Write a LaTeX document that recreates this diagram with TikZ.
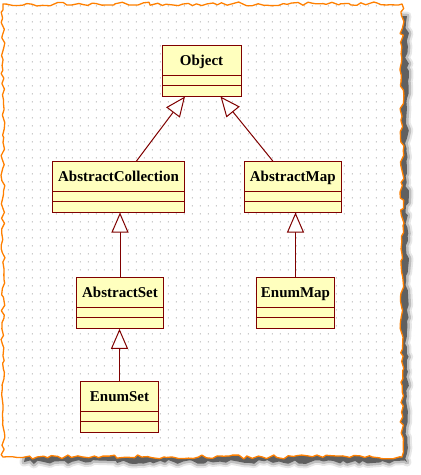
\documentclass[tikz,border=0pt]{standalone}
\usepackage{fontspec}
\setmainfont{Liberation Serif}
\usetikzlibrary{arrows.meta,shapes.multipart,decorations.pathmorphing}
\definecolor{umlred}{RGB}{128,0,0}
\definecolor{umlfill}{RGB}{255,255,190}
\definecolor{tornorange}{RGB}{255,128,0}
\definecolor{dotgray}{RGB}{176,176,176}
\definecolor{shadowgray}{RGB}{96,96,96}
\tikzset{
  classbox/.style={rectangle split, rectangle split parts=3, draw=umlred, fill=umlfill,
    line width=1pt, inner xsep=2pt, inner ysep=0pt, anchor=north,
    font=\fontsize{15}{18}\selectfont\bfseries},
  gen/.style={draw=umlred, line width=1pt, -{Triangle[length=20pt,width=17pt,fill=white]}},
  torn/.style={decorate, decoration={random steps, segment length=5pt, amplitude=2pt}},
}
\newcommand{\cname}[1]{\rule[-9pt]{0pt}{28.5pt}#1\nodepart{two}\rule{0pt}{9.5pt}\nodepart{three}\rule{0pt}{9.5pt}}
\begin{document}
\begin{tikzpicture}[x=1pt,y=-1pt]
\useasboundingbox (0,0) rectangle (421,475);
% shadow
\pgfmathsetseed{11}
\draw[torn, shadowgray, opacity=0.15, line width=9pt, line join=round] (24,16) rectangle (407,462);
\pgfmathsetseed{11}
\draw[torn, shadowgray, opacity=0.3, line width=5pt, line join=round] (24,16) rectangle (407,462);
\pgfmathsetseed{11}
\fill[torn, shadowgray] (24,16) rectangle (407,462);
% paper
\pgfmathsetseed{5}
\fill[torn, white] (3,4) rectangle (402,457);
% dots
\fill[dotgray] \foreach \i in {0,...,48} { \foreach \j in {0,...,55} { ({7.8+8*\i},{5.3+8*\j}) rectangle +(1,1) } };
\pgfmathsetseed{5}
\draw[torn, tornorange, line width=1.3pt, line join=round] (3,4) rectangle (402,457);
% classes
\node[classbox, minimum width=79pt] (obj) at (201.5,45) {\cname{Object}};
\node[classbox, minimum width=132.5pt] (abscoll) at (118.5,161) {\cname{AbstractCollection}};
\node[classbox, minimum width=97pt] (absmap) at (292.8,161) {\cname{AbstractMap}};
\node[classbox, minimum width=87.5pt] (absset) at (120,277.3) {\cname{AbstractSet}};
\node[classbox, minimum width=78.4pt] (enummap) at (295.5,277.3) {\cname{EnumMap}};
\node[classbox, minimum width=78.4pt] (enumset) at (119.5,381.3) {\cname{EnumSet}};
% generalizations
\draw[gen] ([xshift=18pt]abscoll.north) -- ([xshift=-16.5pt]obj.south);
\draw[gen] ([xshift=-20pt]absmap.north) -- ([xshift=19pt]obj.south);
\draw[gen] (absset.north) -- (absset.north |- abscoll.south);
\draw[gen] (enummap.north) -- (enummap.north |- absmap.south);
\draw[gen] (enumset.north) -- (enumset.north |- absset.south);
\end{tikzpicture}
\end{document}
